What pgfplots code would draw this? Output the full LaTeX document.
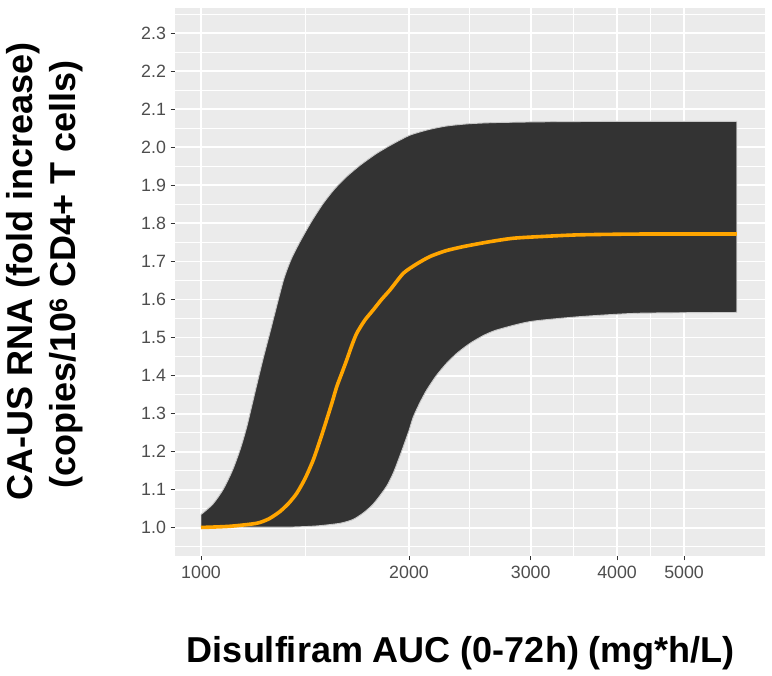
\documentclass[border=0pt]{standalone}
\usepackage{pgfplots}
\pgfplotsset{compat=1.18}
\usepackage{pgfplotstable}
\usepgfplotslibrary{fillbetween}
\usepackage{fontspec}
\setmainfont{Liberation Sans}
\definecolor{ggbg}{HTML}{EBEBEB}
\definecolor{ggtext}{HTML}{4D4D4D}
\definecolor{ggtick}{HTML}{333333}
\definecolor{ribbon}{HTML}{333333}
\definecolor{ribbonedge}{HTML}{C8C8C8}
\definecolor{medline}{HTML}{FFA500}

\pgfplotstableread{
x y
1000 1.035
1040 1.062
1076 1.100
1110 1.150
1139 1.205
1165 1.266
1204 1.375
1231 1.447
1259 1.515
1315 1.648
1350 1.705
1391 1.752
1445 1.805
1502 1.852
1560 1.890
1625 1.923
1700 1.953
1796 1.984
1900 2.010
2007 2.032
2130 2.046
2268 2.056
2450 2.062
2679 2.065
3165 2.067
4000 2.068
5960 2.068
}\tabUp

\pgfplotstableread{
x y
1000 1.003
1200 1.002
1345 1.002
1470 1.005
1589 1.012
1660 1.022
1717 1.039
1770 1.060
1816 1.085
1860 1.112
1898 1.144
1930 1.178
1963 1.214
2000 1.256
2029 1.292
2075 1.330
2121 1.362
2190 1.400
2268 1.433
2350 1.460
2451 1.485
2560 1.505
2679 1.520
2994 1.542
3536 1.555
4318 1.564
5960 1.566
}\tabLo

\pgfplotstableread{
x y
1000 1.001
1100 1.004
1204 1.012
1255 1.024
1301 1.043
1340 1.065
1376 1.091
1415 1.130
1454 1.179
1490 1.235
1520 1.284
1548 1.330
1572 1.371
1600 1.408
1625 1.441
1652 1.478
1680 1.511
1725 1.545
1776 1.573
1825 1.600
1877 1.625
1963 1.669
2050 1.693
2145 1.713
2260 1.728
2397 1.739
2600 1.751
2831 1.761
3150 1.766
3536 1.770
4318 1.772
5960 1.772
}\tabMed

\begin{document}
\begin{tikzpicture}
\begin{axis}[
  at={(0bp,0bp)}, anchor=south west,
  scale only axis,
  width=590bp, height=548bp,
  xmode=log,
  xmin=917, xmax=6548,
  ymin=0.926, ymax=2.366,
  axis background/.style={fill=ggbg},
  axis line style={draw=none},
  xtick={1000,2000,3000,4000,5000},
  xticklabels={1000,2000,3000,4000,5000},
  minor xtick={1414.2,2449.5,3464.1,4472.1},
  ytick={1.0,1.1,1.2,1.3,1.4,1.5,1.6,1.7,1.8,1.9,2.0,2.1,2.2,2.3},
  minor ytick={0.95,1.05,1.15,1.25,1.35,1.45,1.55,1.65,1.75,1.85,1.95,2.05,2.15,2.25,2.35},
  yticklabel style={/pgf/number format/fixed, /pgf/number format/fixed zerofill, /pgf/number format/precision=1, xshift=-1bp},
  /pgf/number format/assume math mode=true,
  tick label style={font=\fontsize{17.8bp}{20bp}\selectfont, text=ggtext},
  xticklabel style={yshift=-2bp},
  grid=both,
  major grid style={white, line width=1.8bp},
  minor grid style={white, line width=0.9bp},
  tick align=outside,
  tick pos=left,
  major tick length=4.5bp,
  minor tick length=0bp,
  tick style={ggtick, line width=1bp},
  clip=true,
]
\addplot[draw=none, name path=up, forget plot, smooth, tension=0.4] table {\tabUp};
\addplot[draw=none, name path=lo, forget plot, smooth, tension=0.4] table {\tabLo};
\addplot[fill=ribbon, draw=ribbonedge, line width=0.9bp] fill between[of=up and lo];
\addplot[medline, line width=3.6bp, line join=round, smooth, tension=0.4] table {\tabMed};
\end{axis}
\node[anchor=base, font=\bfseries\fontsize{36bp}{40bp}\selectfont] at (286bp,-106bp) {Disulfiram AUC (0-72h) (mg*h/L)};
\node[anchor=base, rotate=90, font=\bfseries\fontsize{36bp}{40bp}\selectfont] at (-142bp,284.5bp) {CA-US RNA (fold increase)};
\node[anchor=base, rotate=90, font=\bfseries\fontsize{36bp}{40bp}\selectfont] at (-99bp,281.5bp) {(copies/10\textsuperscript{6} CD4+ T cells)};
\pgfresetboundingbox
\path (-175bp,-120bp) rectangle (597bp,556bp);
\end{tikzpicture}
\end{document}
